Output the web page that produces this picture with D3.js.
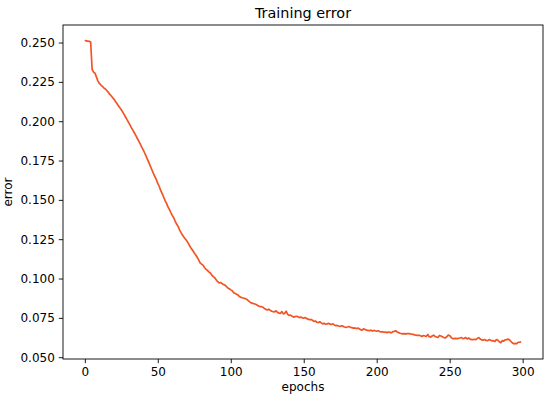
<!DOCTYPE html>
<html>
<head>
<meta charset="utf-8">
<script src="https://cdn.jsdelivr.net/npm/d3@7"></script>
<style>
  body { margin: 0; background: #fff; }
  text { font-family: "DejaVu Sans", sans-serif; fill: #000; }
</style>
</head>
<body>
<script>
// training error per epoch (0..299)
var errors = [
  0.2515, 0.2510, 0.2509, 0.2508, 0.2503, 0.2330, 0.2312, 0.2305, 0.2280, 0.2255,
  0.2240, 0.2230, 0.2222, 0.2212, 0.2205, 0.2195, 0.2185, 0.2172, 0.2162, 0.2150,
  0.2140, 0.2125, 0.2112, 0.2098, 0.2085, 0.2073, 0.2058, 0.2042, 0.2025, 0.2008,
  0.1992, 0.1975, 0.1958, 0.1942, 0.1925, 0.1908, 0.1890, 0.1873, 0.1855, 0.1835,
  0.1818, 0.1798, 0.1778, 0.1756, 0.1735, 0.1712, 0.1690, 0.1668, 0.1648, 0.1628,
  0.1605, 0.1585, 0.1560, 0.1540, 0.1518, 0.1495, 0.1478, 0.1455, 0.1438, 0.1418,
  0.1400, 0.1385, 0.1362, 0.1345, 0.1330, 0.1308, 0.1290, 0.1275, 0.1262, 0.1250,
  0.1238, 0.1222, 0.1205, 0.1190, 0.1178, 0.1162, 0.1150, 0.1135, 0.1118, 0.1100,
  0.1092, 0.1085, 0.1070, 0.1060, 0.1052, 0.1042, 0.1035, 0.1022, 0.1012, 0.1005,
  0.0992, 0.0980, 0.0972, 0.0975, 0.0968, 0.0962, 0.0958, 0.0950, 0.0940, 0.0935,
  0.0928, 0.0922, 0.0910, 0.0905, 0.0900, 0.0895, 0.0885, 0.0880, 0.0878, 0.0875,
  0.0872, 0.0868, 0.0860, 0.0852, 0.0845, 0.0842, 0.0840, 0.0836, 0.0832, 0.0825,
  0.0822, 0.0822, 0.0818, 0.0810, 0.0805, 0.0800, 0.0805, 0.0798, 0.0792, 0.0790,
  0.0788, 0.0795, 0.0785, 0.0780, 0.0778, 0.0790, 0.0775, 0.0780, 0.0792, 0.0772,
  0.0765, 0.0768, 0.0760, 0.0755, 0.0758, 0.0760, 0.0758, 0.0752, 0.0755, 0.0750,
  0.0748, 0.0752, 0.0745, 0.0742, 0.0738, 0.0740, 0.0735, 0.0728, 0.0730, 0.0722,
  0.0720, 0.0725, 0.0718, 0.0712, 0.0715, 0.0710, 0.0712, 0.0715, 0.0710, 0.0708,
  0.0712, 0.0705, 0.0700, 0.0702, 0.0698, 0.0695, 0.0700, 0.0696, 0.0692, 0.0690,
  0.0692, 0.0695, 0.0690, 0.0688, 0.0685, 0.0686, 0.0682, 0.0685, 0.0680, 0.0675,
  0.0672, 0.0680, 0.0676, 0.0672, 0.0670, 0.0668, 0.0672, 0.0666, 0.0670, 0.0668,
  0.0665, 0.0668, 0.0663, 0.0660, 0.0662, 0.0658, 0.0660, 0.0656, 0.0660, 0.0658,
  0.0655, 0.0662, 0.0664, 0.0668, 0.0660, 0.0656, 0.0652, 0.0650, 0.0648, 0.0650,
  0.0648, 0.0650, 0.0650, 0.0648, 0.0646, 0.0645, 0.0642, 0.0640, 0.0638, 0.0640,
  0.0636, 0.0632, 0.0638, 0.0635, 0.0632, 0.0645, 0.0630, 0.0628, 0.0635, 0.0640,
  0.0632, 0.0628, 0.0626, 0.0638, 0.0635, 0.0630, 0.0625, 0.0622, 0.0630, 0.0640,
  0.0638, 0.0625, 0.0618, 0.0618, 0.0620, 0.0618, 0.0620, 0.0622, 0.0625, 0.0618,
  0.0620, 0.0625, 0.0616, 0.0622, 0.0615, 0.0612, 0.0612, 0.0614, 0.0612, 0.0620,
  0.0624, 0.0615, 0.0610, 0.0608, 0.0612, 0.0606, 0.0605, 0.0612, 0.0608, 0.0604,
  0.0605, 0.0600, 0.0612, 0.0608, 0.0598, 0.0592, 0.0605, 0.0602, 0.0610, 0.0612,
  0.0615, 0.0610, 0.0600, 0.0590, 0.0585, 0.0588, 0.0586, 0.0595, 0.0596, 0.0598
];
var xTicks = [0, 50, 100, 150, 200, 250, 300];
var yTicks = [0.050, 0.075, 0.100, 0.125, 0.150, 0.175, 0.200, 0.225, 0.250];

var width = 550, height = 398;
var margin = {top: 25, right: 7, bottom: 39, left: 63};
var w = width - margin.left - margin.right,
    h = height - margin.top - margin.bottom;

var svg = d3.select("body").append("svg")
    .attr("width", width)
    .attr("height", height);

var g = svg.append("g")
    .attr("transform", "translate(" + margin.left + "," + margin.top + ")");

// matplotlib style 5% padding around data
var n = errors.length - 1;
var xPad = n * 0.05;
var yMin = d3.min(errors), yMax = d3.max(errors);
var yPad = (yMax - yMin) * 0.05;

var x = d3.scaleLinear().domain([-xPad, n + xPad]).range([0, w]);
var y = d3.scaleLinear().domain([yMin - yPad, yMax + yPad]).range([h, 0]);

var xAxis = g.append("g")
    .attr("transform", "translate(0," + h + ")")
    .call(d3.axisBottom(x).tickValues(xTicks).tickSize(4.2).tickPadding(4));
var yAxis = g.append("g")
    .call(d3.axisLeft(y).tickValues(yTicks).tickFormat(d3.format(".3f")).tickSize(4.2).tickPadding(4));

[xAxis, yAxis].forEach(function(a) {
  a.select(".domain").remove();
  a.selectAll("line").attr("stroke", "#000").attr("stroke-width", 0.9);
  a.selectAll("text").attr("font-family", "DejaVu Sans").attr("font-size", 12).attr("fill", "#000");
});

var line = d3.line()
    .x(function(d, i) { return x(i); })
    .y(function(d) { return y(d); });

g.append("path")
    .datum(errors)
    .attr("d", line)
    .attr("fill", "none")
    .attr("stroke", "#f05523")
    .attr("stroke-width", 1.7)
    .attr("stroke-linejoin", "round");

// frame
g.append("rect")
    .attr("width", w)
    .attr("height", h)
    .attr("fill", "none")
    .attr("stroke", "#000")
    .attr("stroke-width", 0.9);

svg.append("text")
    .attr("x", margin.left + w / 2)
    .attr("y", 18)
    .attr("text-anchor", "middle")
    .attr("font-size", 14.4)
    .text("Training error");

svg.append("text")
    .attr("x", margin.left + w / 2)
    .attr("y", 391)
    .attr("text-anchor", "middle")
    .attr("font-size", 12)
    .text("epochs");

svg.append("text")
    .attr("transform", "translate(12," + (margin.top + h / 2) + ") rotate(-90)")
    .attr("text-anchor", "middle")
    .attr("font-size", 12)
    .text("error");
</script>
</body>
</html>
